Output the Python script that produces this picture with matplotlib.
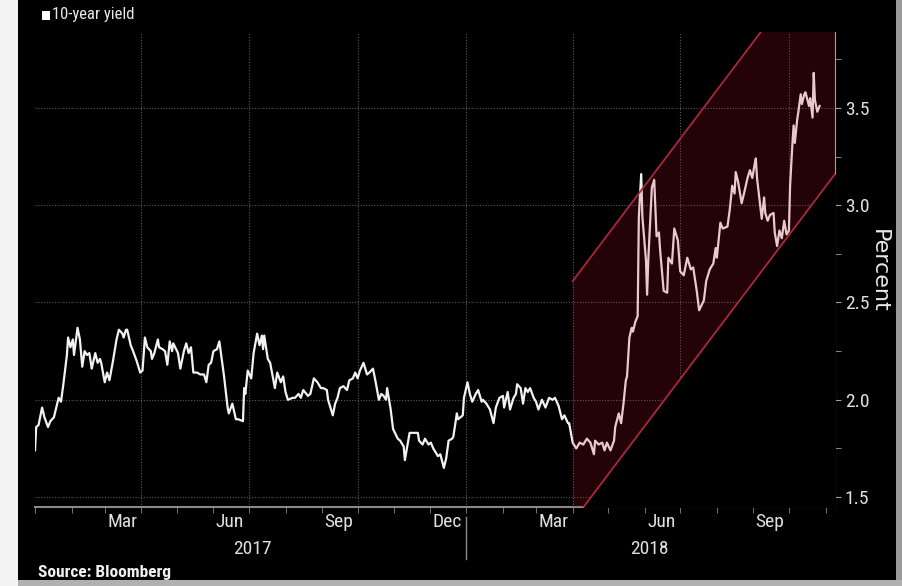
import numpy as np
import matplotlib.pyplot as plt
from matplotlib.patches import Rectangle

plt.rcParams['font.family'] = ['Liberation Sans Narrow', 'DejaVu Sans Condensed', 'Roboto Condensed', 'DejaVu Sans']

# days since 2017-01-01
days = [0, 1, 3, 6, 8, 11, 13, 16, 20, 22, 24, 27, 28, 30, 32, 33, 36, 38, 40, 42,
        44, 46, 48, 51, 53, 55, 56, 59, 61, 63, 66, 69, 71, 74, 75, 77, 78, 81, 83, 86,
        89, 91, 93, 95, 98, 99, 101, 104, 105, 108, 110, 112, 114, 116, 117, 121, 123, 126, 128, 130,
        132, 134, 137, 140, 143, 145, 147, 149, 151, 154, 156,
        160, 163, 164, 167, 170, 172, 176, 177, 178, 180, 183, 185, 188, 190, 192, 193, 194, 197, 199,
        203, 205, 208, 210, 212, 214, 218, 220, 223, 225, 227, 231, 233, 236, 239, 242, 244, 247, 248, 252,
        254, 256, 258, 261, 264, 266, 269, 271, 273, 275, 278, 281, 283, 286, 288, 291, 293, 295, 297, 298,
        301, 303, 307, 309, 312, 313, 315, 317, 320, 324, 325,
        328, 330, 333, 335, 337, 341, 343, 346, 348, 350, 353, 354, 357, 358, 362, 363, 366, 368, 370, 373,
        375, 378, 379, 382, 385, 388, 390, 393, 396, 397, 400, 402, 405, 407, 408, 411, 413, 415, 417, 419,
        422, 424, 426, 429, 432, 435, 438, 440, 443, 446, 448, 451, 452, 455, 458, 461, 464, 467, 470, 473,
        474, 477, 480, 482, 484,
        487, 490, 491, 494, 496, 498, 500, 501, 503, 505, 506, 508, 510, 511, 513, 514, 517, 518, 519, 522,
        524, 526, 528, 529, 532, 535, 536, 539, 541, 544, 546, 549, 552, 555, 557, 560, 562, 566, 568, 571,
        574, 576, 577, 580, 582, 586, 588, 590, 592, 593, 595, 598, 600, 603, 605, 607, 609, 610, 611, 615,
        617, 618, 620, 622, 625, 626, 628, 630, 632, 634, 636, 638, 639, 641, 642, 643, 645, 646, 648, 649,
        651, 652, 655, 656, 658, 659, 660, 662, 664]
yld = [1.74, 1.86, 1.87, 1.96, 1.91, 1.86, 1.89, 1.91, 2.01, 1.99, 2.08, 2.23, 2.32, 2.27, 2.31, 2.23, 2.37, 2.31, 2.17, 2.25,
       2.23, 2.24, 2.16, 2.24, 2.19, 2.21, 2.19, 2.09, 2.14, 2.10, 2.20, 2.31, 2.36, 2.34, 2.32, 2.36, 2.36, 2.28, 2.25, 2.20,
       2.14, 2.15, 2.32, 2.27, 2.25, 2.21, 2.24, 2.31, 2.27, 2.26, 2.25, 2.18, 2.30, 2.25, 2.29, 2.24, 2.16, 2.25, 2.29, 2.24,
       2.27, 2.14, 2.14, 2.13, 2.13, 2.09, 2.18, 2.19, 2.25, 2.26, 2.30,
       2.12, 1.96, 1.93, 1.98, 1.90, 1.90, 1.89, 2.06, 2.03, 2.15, 2.11, 2.24, 2.34, 2.28, 2.33, 2.26, 2.33, 2.21, 2.19,
       2.06, 2.14, 2.09, 2.12, 2.04, 2.00, 2.01, 2.01, 2.03, 2.01, 2.05, 2.02, 2.03, 2.11, 2.09, 2.06, 2.06, 2.05, 2.00, 1.92,
       1.98, 2.01, 2.06, 2.07, 2.05, 2.10, 2.11, 2.14, 2.11, 2.15, 2.19, 2.13, 2.14, 2.16, 2.10, 2.00, 2.03, 2.02, 2.00, 2.06,
       1.95, 1.85, 1.80, 1.79, 1.76, 1.69, 1.76, 1.83, 1.83, 1.83, 1.79,
       1.77, 1.80, 1.77, 1.78, 1.75, 1.71, 1.72, 1.65, 1.70, 1.79, 1.80, 1.81, 1.93, 1.90, 1.92, 2.01, 2.09, 2.03, 1.99, 2.03,
       2.05, 1.99, 2.00, 1.98, 1.95, 1.88, 1.96, 2.01, 2.02, 1.96, 2.04, 1.95, 2.01, 2.03, 2.08, 2.06, 1.98, 2.06, 2.04, 2.06,
       2.01, 1.99, 1.95, 2.00, 1.96, 2.01, 2.00, 2.01, 1.97, 1.90, 1.92, 1.88, 1.88, 1.78, 1.75, 1.78, 1.77, 1.80, 1.78, 1.72,
       1.79, 1.77, 1.78, 1.74, 1.78,
       1.74, 1.79, 1.86, 1.93, 1.88, 1.98, 2.10, 2.12, 2.32, 2.37, 2.35, 2.40, 2.43, 2.94, 3.16, 2.94, 2.72, 2.54, 2.72, 3.09,
       3.13, 2.84, 2.86, 2.77, 2.56, 2.55, 2.73, 2.70, 2.88, 2.82, 2.66, 2.64, 2.73, 2.67, 2.68, 2.56, 2.46, 2.51, 2.61, 2.67,
       2.70, 2.78, 2.73, 2.91, 2.88, 2.89, 2.98, 3.10, 3.06, 3.17, 3.12, 3.01, 3.06, 3.14, 3.18, 3.14, 3.21, 3.24, 3.14, 2.93,
       3.04, 2.96, 2.92, 2.95, 2.96, 2.86, 2.79, 2.87, 2.83, 2.92, 2.85, 2.87, 3.10, 3.32, 3.41, 3.32, 3.44, 3.48, 3.57, 3.52,
       3.57, 3.58, 3.51, 3.55, 3.45, 3.68, 3.54, 3.48, 3.51]

# trend channel: start day, lower/upper level at start, slope per day
ch_start = 455
ch_end = 700
ch_low = 1.375
ch_high = 2.61
ch_slope = 0.00804

t0 = np.datetime64('2017-01-01')
dates = t0 + np.array(days).astype('timedelta64[D]')

fig = plt.figure(figsize=(9.03, 5.86), dpi=100)
fig.patch.set_facecolor('#f4f4f4')
fig.patches.append(Rectangle((18/903, 6/586), 878/903, 1, transform=fig.transFigure,
                             facecolor='black', edgecolor='none', zorder=-10))
fig.patches.append(Rectangle((896/903, 0), 7/903, 1, transform=fig.transFigure,
                             facecolor='#9a9a9a', edgecolor='none', zorder=-10))
fig.patches.append(Rectangle((18/903, 0), 1, 6/586, transform=fig.transFigure,
                             facecolor='#b0b0b0', edgecolor='none', zorder=-10))

ax = fig.add_axes([35/903, 79/586, 800/903, 475/586])
ax.set_facecolor('black')

ax.plot(dates, yld, color='#f2f2f2', lw=1.6, zorder=3)

cd = np.array([ch_start, ch_end])
cx = t0 + cd.astype('timedelta64[D]')
lo = ch_low + ch_slope * (cd - ch_start)
hi = ch_high + ch_slope * (cd - ch_start)
ax.fill_between(cx, [1.0, 1.0], hi, color='#c8142c', alpha=0.18, lw=0, zorder=4)
ax.fill_between(cx, [1.0, 1.0], lo, color='black', lw=0, zorder=4)
ax.plot(cx, lo, color='#a8283c', lw=1.3, zorder=5)
ax.plot(cx, hi, color='#a8283c', lw=1.3, zorder=5)

ax.set_xlim(np.datetime64('2017-01-01'), np.datetime64('2018-11-09'))
ax.set_ylim(1.449, 3.89)

# axes styling
for s in ['top', 'left']:
    ax.spines[s].set_visible(False)
ax.spines['right'].set_color('#a0a0a0')
ax.spines['bottom'].set_color('#8a8a8a')
ax.spines['bottom'].set_linewidth(1.5)

ax.yaxis.tick_right()
ax.set_yticks([1.5, 2.0, 2.5, 3.0, 3.5])
ax.set_yticklabels(['1.5', '2.0', '2.5', '3.0', '3.5'])
ax.set_yticks([1.75, 2.25, 2.75, 3.25, 3.75], minor=True)
ax.tick_params(axis='y', which='both', direction='out', length=4, color='#a0a0a0',
               labelcolor='#e0e0e0', labelsize=14, pad=3)
ax.grid(axis='y', which='major', color='#5a5a5a', ls=(0, (1, 1.5)), lw=0.8)

months = np.datetime64('2017-01', 'M') + np.arange(23)
ax.set_xticks(months.astype('datetime64[D]'), minor=True)
mids = ['2017-03-16', '2017-06-15', '2017-09-15', '2017-12-16',
        '2018-03-16', '2018-06-15', '2018-09-15']
ax.set_xticks([np.datetime64(m) for m in mids])
ax.set_xticklabels(['Mar', 'Jun', 'Sep', 'Dec', 'Mar', 'Jun', 'Sep'])
ax.tick_params(axis='x', which='major', length=0, labelcolor='#e0e0e0', labelsize=14, pad=4)
ax.tick_params(axis='x', which='minor', direction='out', length=4, color='#8a8a8a')

quarters = ['2017-04-01', '2017-07-01', '2017-10-01', '2018-01-01',
            '2018-04-01', '2018-07-01', '2018-10-01']
for q in quarters:
    ax.axvline(np.datetime64(q), color='#5a5a5a', ls=(0, (1, 1.5)), lw=0.8, zorder=1)

trans = ax.get_xaxis_transform()
ax.text(np.datetime64('2017-07-04'), -0.07, '2017', transform=trans, ha='center', va='top',
        color='#e0e0e0', fontsize=14)
ax.text(np.datetime64('2018-06-05'), -0.07, '2018', transform=trans, ha='center', va='top',
        color='#e0e0e0', fontsize=14)
ax.plot([np.datetime64('2018-01-01')] * 2, [-0.02, -0.11], transform=trans, color='#8a8a8a',
        lw=1, clip_on=False)

fig.text(879/903, 1 - 271/586, 'Percent', rotation=270, ha='center', va='center',
         color='#e8e8e8', fontsize=16, family='DejaVu Sans')

fig.patches.append(Rectangle((42/903, 1 - 20/586), 8/903, 9/586, transform=fig.transFigure,
                             facecolor='white', edgecolor='none'))
fig.text(52/903, 1 - 15/586, '10-year yield', ha='left', va='center', color='#e8e8e8', fontsize=12)
fig.text(38/903, 1 - 573/586, 'Source: Bloomberg', ha='left', va='center', color='#f0f0f0',
         fontsize=12.5, fontweight='bold')

fig.savefig('out.png', dpi=100, facecolor=fig.get_facecolor())
